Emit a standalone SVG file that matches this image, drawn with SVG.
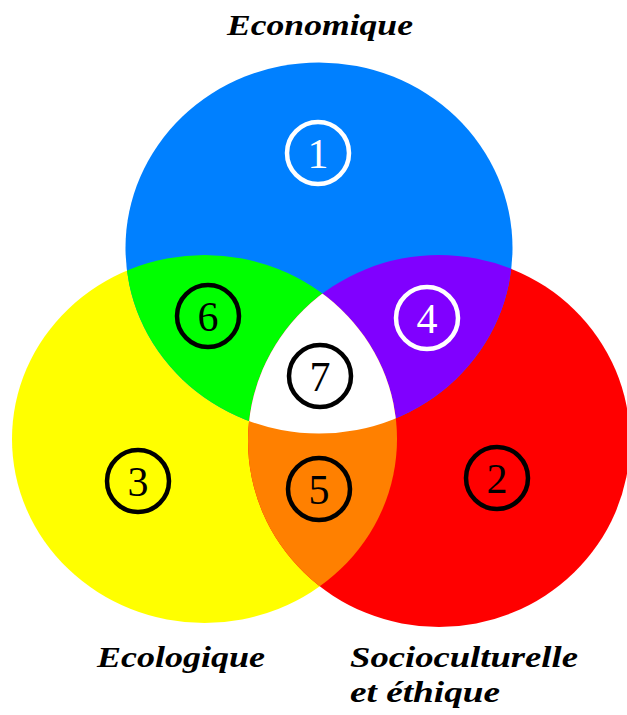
<svg xmlns="http://www.w3.org/2000/svg" xmlns:xlink="http://www.w3.org/1999/xlink" width="627" height="715" viewBox="0 0 627 715">
  <style>
    .title { font-family: "Liberation Serif", "Times New Roman", serif; font-weight: bold; font-style: italic; font-size: 29px; fill: #000; }
    .num { font-family: "Liberation Serif", "Times New Roman", serif; font-size: 42px; text-anchor: middle; }
    .ring { fill: none; stroke-width: 4.5; }
    .dark .ring { stroke: #000; }
    .dark text { fill: #000; }
    .light .ring { stroke: #fff; }
    .light text { fill: #fff; }
  </style>
  <defs>
    <ellipse id="eBlue" cx="319" cy="248" rx="193.5" ry="185.5"/>
    <ellipse id="eYellow" cx="204.5" cy="439" rx="192.5" ry="184"/>
    <ellipse id="eRed" cx="439" cy="441" rx="191" ry="186"/>
    <clipPath id="clipBlue"><use xlink:href="#eBlue"/></clipPath>
    <clipPath id="clipRed"><use xlink:href="#eRed"/></clipPath>
  </defs>
  <rect width="627" height="715" fill="#fff"/>

  <g id="regions">
    <use id="set-ecologique" xlink:href="#eYellow" fill="#FFFF00"/>
    <use id="set-socioculturelle" xlink:href="#eRed" fill="#FF0000"/>
    <use id="set-economique" xlink:href="#eBlue" fill="#0080FF"/>
    <use id="overlap-eco-ecolo" xlink:href="#eYellow" fill="#00FF00" clip-path="url(#clipBlue)"/>
    <use id="overlap-eco-socio" xlink:href="#eRed" fill="#8000FF" clip-path="url(#clipBlue)"/>
    <use id="overlap-ecolo-socio" xlink:href="#eYellow" fill="#FF8000" clip-path="url(#clipRed)"/>
    <g id="overlap-all" clip-path="url(#clipBlue)">
      <use xlink:href="#eYellow" fill="#FFFFFF" clip-path="url(#clipRed)"/>
    </g>
  </g>

  <g id="n1" class="light"><circle class="ring" cx="318" cy="153" r="31"/><text class="num" x="318" y="168">1</text></g>
  <g id="n2" class="dark"><circle class="ring" cx="497" cy="478" r="31"/><text class="num" x="497" y="493">2</text></g>
  <g id="n3" class="dark"><circle class="ring" cx="138" cy="481" r="31"/><text class="num" x="138" y="496">3</text></g>
  <g id="n4" class="light"><circle class="ring" cx="427" cy="318" r="31"/><text class="num" x="427" y="333">4</text></g>
  <g id="n5" class="dark"><circle class="ring" cx="319" cy="489" r="31"/><text class="num" x="319" y="504">5</text></g>
  <g id="n6" class="dark"><circle class="ring" cx="208" cy="316" r="31"/><text class="num" x="208" y="331">6</text></g>
  <g id="n7" class="dark"><circle class="ring" cx="320" cy="376" r="31"/><text class="num" x="320" y="391">7</text></g>

  <g id="labels">
    <text class="title" x="227" y="35" textLength="186" lengthAdjust="spacingAndGlyphs">Economique</text>
    <text class="title" x="97" y="667" textLength="168" lengthAdjust="spacingAndGlyphs">Ecologique</text>
    <text class="title" x="350" y="667" textLength="228" lengthAdjust="spacingAndGlyphs">Socioculturelle</text>
    <text class="title" x="350" y="702" textLength="150" lengthAdjust="spacingAndGlyphs">et éthique</text>
  </g>
</svg>
